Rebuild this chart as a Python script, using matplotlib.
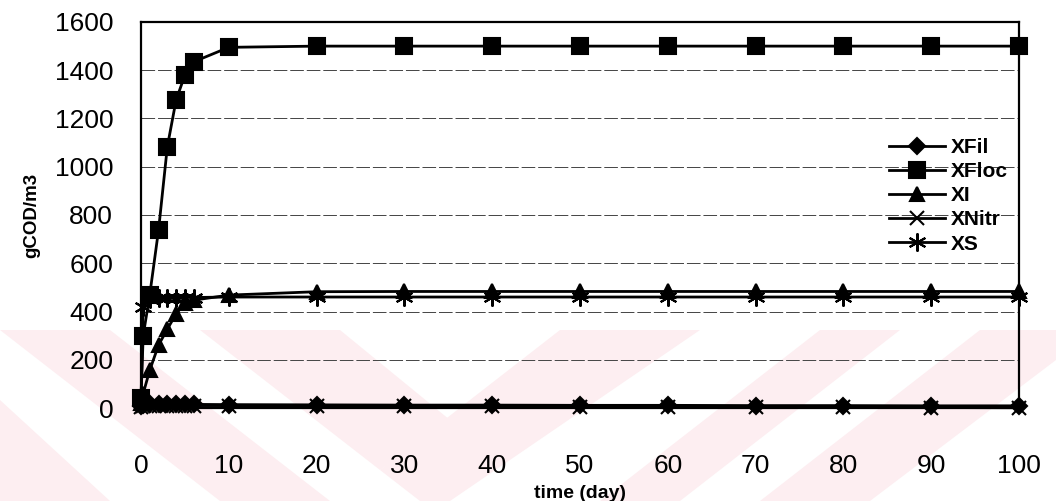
import numpy as np
import matplotlib.pyplot as plt
from matplotlib.patches import Polygon

plt.rcParams['font.family'] = ['Liberation Sans', 'DejaVu Sans']

# time grid (days)
t = [0, 0.25, 1, 2, 3, 4, 5, 6, 10, 20, 30, 40, 50, 60, 70, 80, 90, 100]

# concentrations, gCOD/m3
xfil = [10, 14, 15, 15, 15, 15, 15, 15, 14, 13, 12, 12, 11, 11, 10, 10, 9, 9]
xfloc = [40, 300, 470, 738, 1083, 1277, 1380, 1435, 1495, 1500, 1500, 1500, 1500, 1500, 1500, 1500, 1500, 1500]
xi = [20, 60, 157, 261, 327, 390, 435, 447, 468, 482, 483, 483, 483, 483, 483, 483, 483, 483]
xnitr = [5, 8, 9, 10, 10, 10, 10, 10, 10, 9, 8, 7, 6, 5, 4, 3, 2, 1]
xs = [30, 420, 452, 455, 456, 457, 458, 458, 460, 460, 460, 460, 460, 460, 460, 460, 460, 460]

series = [("XFil", xfil, "D", 8), ("XFloc", xfloc, "s", 11),
          ("XI", xi, "^", 10), ("XNitr", xnitr, "x", 10),
          ("XS", xs, (6, 2, 0), 13)]

fig = plt.figure(figsize=(10.56, 5.01), dpi=100)

# faint watermark in the background
wm = '#fdeef1'
shapes = [
    [(0, 330), (110, 330), (330, 501), (220, 501)],
    [(0, 400), (0, 501), (110, 501)],
    [(200, 330), (340, 330), (450, 420), (380, 470)],
    [(380, 470), (560, 330), (700, 330), (450, 501), (420, 501)],
    [(600, 501), (820, 330), (900, 330), (680, 501)],
    [(760, 501), (980, 330), (1056, 330), (1056, 360), (870, 501)],
]
for s in shapes:
    pts = [(x / 1056, 1 - y / 501) for x, y in s]
    fig.patches.append(Polygon(pts, closed=True, transform=fig.transFigure,
                               facecolor=wm, edgecolor='none', zorder=-5))

ax = fig.add_axes([141 / 1056, 1 - 408 / 501, (1019 - 141) / 1056, (408 - 22) / 501])
ax.set_facecolor('none')

for name, vals, mk, ms in series:
    ax.plot(t, vals, color='black', lw=2, marker=mk, markersize=ms,
            markeredgewidth=1.5, markerfacecolor='black', label=name,
            clip_on=False, zorder=3)

ax.set_xlim(0, 100)
ax.set_ylim(0, 1600)
ax.set_xticks(range(0, 101, 10))
ax.set_yticks(range(0, 1601, 200))
ax.tick_params(axis='both', labelsize=19, length=0)
ax.tick_params(axis='y', pad=20)
ax.tick_params(axis='x', pad=33)
ax.grid(axis='y', color='#444444', lw=0.7, dashes=(14, 3))
ax.set_axisbelow(True)
for sp in ax.spines.values():
    sp.set_linewidth(1.6)

ax.set_xlabel('time (day)', fontsize=14, fontweight='bold', labelpad=5)
ax.set_ylabel('gCOD/m3', fontsize=13.5, fontweight='bold', labelpad=10)

leg = ax.legend(loc='upper left', bbox_to_anchor=(0.852, 0.70), frameon=False,
                prop={'size': 15, 'weight': 'bold'}, handlelength=2.7,
                handletextpad=0.25, labelspacing=0.25, borderpad=0,
                borderaxespad=0)

fig.savefig('out.png', dpi=100)
